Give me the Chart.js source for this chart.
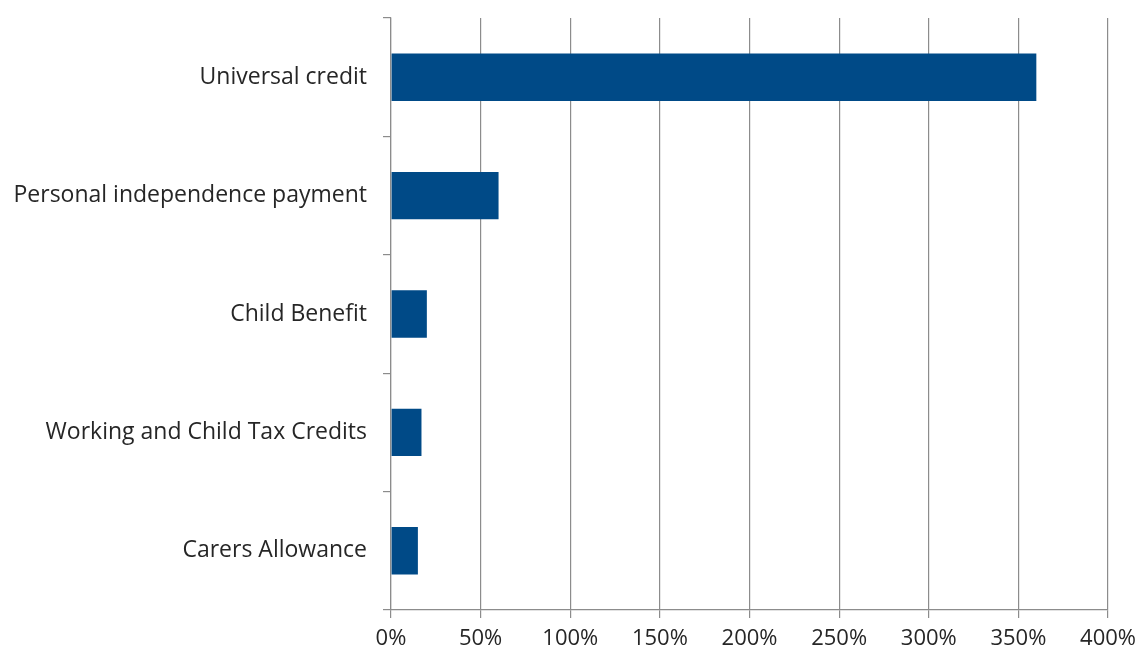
<!DOCTYPE html>
<html lang="en">
<head>
    <meta charset="UTF-8">
    <title>Benefit growth</title>
    <script src="https://cdn.jsdelivr.net/npm/chart.js"></script>
    <style>
        body {
            margin: 0;
            background: #ffffff;
        }

        #chart-container {
            width: 1144px;
            height: 656px;
        }
    </style>
</head>
<body>

<div id="chart-container">
    <canvas id="benefitChart"></canvas>
</div>

<script>
    // Data
    const categories = [
        'Universal credit',
        'Personal independence payment',
        'Child Benefit',
        'Working and Child Tax Credits',
        'Carers Allowance'
    ];
    const increase = [360, 60, 20, 17, 15];
    const xTicks = [0, 50, 100, 150, 200, 250, 300, 350, 400];

    const axisGrey = '#8c8c8c';
    const textColour = '#262626';
    const font = { family: '"Open Sans", sans-serif', size: 23 };

    const ctx = document.getElementById('benefitChart').getContext('2d');
    const benefitChart = new Chart(ctx, {
        type: 'bar',
        data: {
            labels: categories,
            datasets: [{
                data: increase,
                backgroundColor: '#004a87',
                categoryPercentage: 1,
                barPercentage: 0.4
            }]
        },
        options: {
            indexAxis: 'y',
            responsive: true,
            maintainAspectRatio: false,
            animation: false,
            layout: {
                padding: { top: 18, right: 34, bottom: 0, left: 0 }
            },
            plugins: {
                legend: { display: false },
                tooltip: { enabled: false }
            },
            scales: {
                x: {
                    min: 0,
                    max: 400,
                    afterBuildTicks: scale => {
                        scale.ticks = xTicks.map(v => ({ value: v }));
                    },
                    afterFit: scale => { scale.height = 46; },
                    ticks: {
                        color: textColour,
                        font: { family: font.family, size: 22 },
                        padding: 8,
                        maxRotation: 0,
                        callback: v => v + '%'
                    },
                    grid: {
                        color: axisGrey,
                        lineWidth: 1.2,
                        tickLength: 8
                    },
                    border: { color: axisGrey, width: 1.2 }
                },
                y: {
                    afterFit: scale => {
                        scale.width = 391;
                        // labels sit between the category ticks, so no extra room needed
                        scale.paddingTop = 0;
                        scale.paddingBottom = 0;
                    },
                    ticks: {
                        color: textColour,
                        font: font,
                        padding: 16
                    },
                    grid: {
                        offset: true,
                        drawOnChartArea: false,
                        color: axisGrey,
                        lineWidth: 1.2,
                        tickLength: 8
                    },
                    border: { color: axisGrey, width: 1.2 }
                }
            }
        }
    });
</script>

</body>
</html>
